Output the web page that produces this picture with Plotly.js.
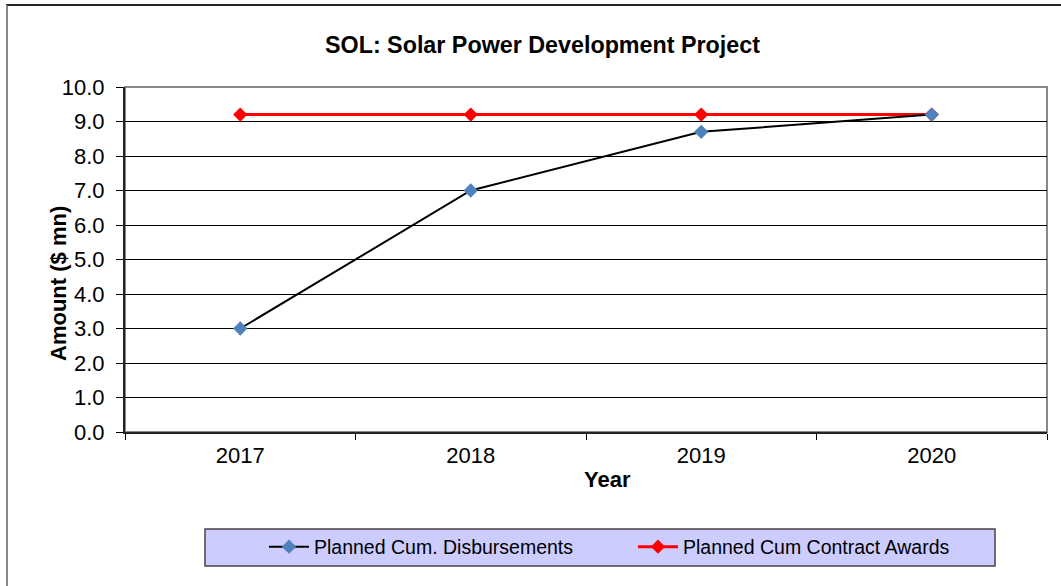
<!DOCTYPE html>
<html><head><meta charset="utf-8">
<script src="https://cdn.plot.ly/plotly-3.0.1.min.js"></script>
<style>
html,body{margin:0;padding:0;background:#fff;}
#wrap{position:relative;width:1061px;height:586px;overflow:hidden;}
#frame{position:absolute;left:6px;top:4px;width:1060px;height:590px;border-left:2px solid #888;border-top:2px solid #222;box-sizing:border-box;pointer-events:none;z-index:5;}
#chart{position:absolute;left:0;top:0;width:1061px;height:586px;}
</style></head>
<body><div id="wrap"><div id="chart"></div><div id="frame"></div></div>
<script>
const years = ['2017','2018','2019','2020'];
const disbursements = [3.0, 7.0, 8.7, 9.2];
const contractAwards = [9.2, 9.2, 9.2, 9.2];
const yTicks = [0,1,2,3,4,5,6,7,8,9,10];
const yTickText = yTicks.map(v => v.toFixed(1));

const traces = [
  {x: years, y: contractAwards, name: 'Planned Cum Contract Awards', type: 'scatter', mode: 'lines+markers',
   line: {color: '#ff0000', width: 3}, marker: {symbol: 'diamond', size: 11, color: '#ff0000', line: {width: 0}}},
  {x: years, y: disbursements, name: 'Planned Cum. Disbursements', type: 'scatter', mode: 'lines+markers',
   line: {color: '#000000', width: 2}, marker: {symbol: 'diamond', size: 11, color: '#4f81bd', line: {width: 0}}}
];

const layout = {
  width: 1061, height: 586,
  margin: {l: 125, r: 14, t: 87, b: 154},
  paper_bgcolor: '#ffffff', plot_bgcolor: '#ffffff',
  font: {family: 'Liberation Sans, Arial, sans-serif', color: '#000000'},
  xaxis: {type: 'category', range: [-0.5, 3.5], tickfont: {size: 22}, showgrid: false,
          ticks: 'outside', ticklen: 6, tickcolor: '#000', tickson: 'boundaries', ticklabelstandoff: 3,
          showline: true, linecolor: '#222', linewidth: 2},
  yaxis: {range: [0, 10], tickvals: yTicks, ticktext: yTickText, tickfont: {size: 22},
          showgrid: true, gridcolor: '#000000', gridwidth: 1, zeroline: false,
          ticks: 'outside', ticklen: 7, tickcolor: '#000', ticklabelstandoff: 7,
          showline: true, linecolor: '#222', linewidth: 2},
  annotations: [
    {text: '<b>SOL: Solar Power Development Project</b>', xref: 'paper', yref: 'paper', x: (542-125)/922, y: (432-45)/345,
     xanchor: 'center', yanchor: 'middle', showarrow: false, font: {size: 23.3}},
    {text: '<b>Amount ($ mn)</b>', xref: 'paper', yref: 'paper', x: (58-125)/922, y: (432-284)/345, textangle: -90,
     xanchor: 'center', yanchor: 'middle', showarrow: false, font: {size: 22}},
    {text: '<b>Year</b>', xref: 'paper', yref: 'paper', x: (607-125)/922, y: -(479-432)/345,
     xanchor: 'center', yanchor: 'middle', showarrow: false, font: {size: 22}}
  ],
  shapes: [
    {type: 'rect', xref: 'paper', yref: 'paper', x0: 0, x1: 1, y0: 0, y1: 1, line: {color: '#888', width: 2}, layer: 'below'},
    {type: 'rect', xref: 'paper', yref: 'paper', x0: (205-125)/922, x1: (995-125)/922, y0: -(529-432)/345, y1: -(566-432)/345,
     fillcolor: '#ccccff', line: {color: '#444', width: 1.5}, layer: 'below'}
  ],
  showlegend: true,
  legend: {orientation: 'h', traceorder: 'reversed', x: (633-125)/922, xanchor: 'center', y: -(547-432)/345, yanchor: 'middle',
           bgcolor: 'rgba(0,0,0,0)', font: {size: 19.5}, entrywidth: 314, itemwidth: 40}
};

Plotly.newPlot('chart', traces, layout, {displayModeBar: false, staticPlot: true});
</script></body></html>
